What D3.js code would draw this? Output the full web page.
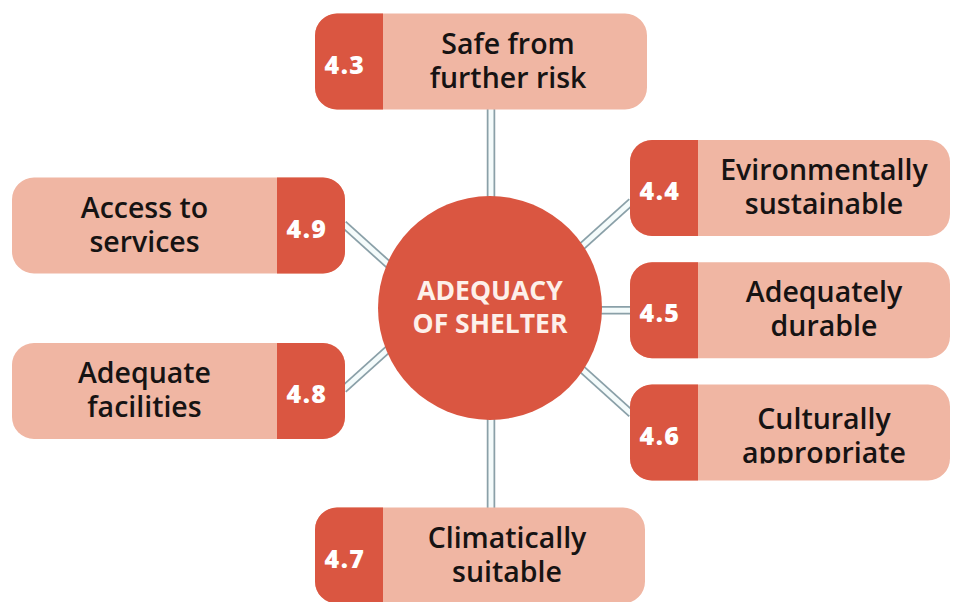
<!DOCTYPE html>
<html>
<head>
<meta charset="utf-8">
<script src="https://cdn.jsdelivr.net/npm/d3@7"></script>
<style>
  html, body { margin: 0; padding: 0; background: #ffffff; }
  svg { display: block; }
</style>
</head>
<body>
<script>
// ---------------- DATA ----------------
const codes = ["4.3", "4.4", "4.5", "4.6", "4.7", "4.8", "4.9"];
const labelLines = [
  ["Safe from", "further risk"],
  ["Evironmentally", "sustainable"],
  ["Adequately", "durable"],
  ["Culturally", "appropriate"],
  ["Climatically", "suitable"],
  ["Adequate", "facilities"],
  ["Access to", "services"]
];
const placements = ["top", "right", "right", "right", "bottom", "left", "left"];
const centerLines = ["ADEQUACY", "OF SHELTER"];

// ---------------- STYLE / LAYOUT ----------------
const W = 953, H = 602;
const C = { dark: "#da5641", light: "#f0b6a3", text: "#161313", line: "#8aa0a8", centerText: "#fdf0ea" };
const FONT = "'Open Sans', 'Noto Sans', sans-serif";
const center = { x: 490, y: 308, r: 112 };
const boxH = 96, rad = 22, tab = 68;

const svg = d3.select("body").append("svg").attr("width", W).attr("height", H);

const nodes = codes.map((c, i) => ({ code: c, lines: labelLines[i], side: placements[i], i }));
const rightCodes = nodes.filter(d => d.side === "right").map(d => d.code);
const leftCodes = nodes.filter(d => d.side === "left").map(d => d.code).reverse();
const yRight = d3.scalePoint().domain(rightCodes).range([188, 432.5]);
const yLeft = d3.scalePoint().domain(leftCodes).range([225.5, 391]);

nodes.forEach(d => {
  if (d.side === "top") { d.x0 = 315; d.x1 = 647; d.cy = 61.5; }
  else if (d.side === "bottom") { d.x0 = 315; d.x1 = 645; d.cy = 555.5; }
  else if (d.side === "right") { d.x0 = 630; d.x1 = 950; d.cy = yRight(d.code); }
  else { d.x0 = 12; d.x1 = 345; d.cy = yLeft(d.code); }
  d.y0 = d.cy - boxH / 2; d.y1 = d.cy + boxH / 2;
  d.tabLeft = d.side !== "left";
});

// connector anchor + direction
const diag = 42 * Math.PI / 180;
nodes.forEach(d => {
  let ax, ay, dx, dy;
  if (d.side === "top") { ax = center.x + 1; ay = d.y1; dx = 0; dy = 1; }
  else if (d.side === "bottom") { ax = center.x + 1; ay = d.y0; dx = 0; dy = -1; }
  else if (d.side === "right") {
    ax = d.x0;
    const k = rightCodes.indexOf(d.code);
    if (k === 1) { ay = d.cy; dx = -1; dy = 0; }
    else if (k === 0) { ay = d.cy + 15; dx = -Math.cos(diag); dy = Math.sin(diag); }
    else { ay = d.cy - 20; dx = -Math.cos(diag); dy = -Math.sin(diag); }
  } else {
    ax = d.x1;
    const k = leftCodes.indexOf(d.code);
    if (k === 0) { ay = d.cy; dx = Math.cos(diag); dy = Math.sin(diag); }
    else { ay = d.cy - 3; dx = Math.cos(diag); dy = -Math.sin(diag); }
  }
  d.conn = { x1: ax + dx * -2, y1: ay + dy * -2, x2: ax + dx * 110, y2: ay + dy * 110 };
});

// connectors (double lines)
const gConn = svg.append("g");
gConn.selectAll("line.outer").data(nodes).join("line").attr("class", "outer")
  .attr("x1", d => d.conn.x1).attr("y1", d => d.conn.y1)
  .attr("x2", d => d.conn.x2).attr("y2", d => d.conn.y2)
  .attr("stroke", C.line).attr("stroke-width", 8.5);
gConn.selectAll("line.inner").data(nodes).join("line").attr("class", "inner")
  .attr("x1", d => d.conn.x1).attr("y1", d => d.conn.y1)
  .attr("x2", d => d.conn.x2).attr("y2", d => d.conn.y2)
  .attr("stroke", "#f4fbfb").attr("stroke-width", 5);

function rr(x, y, w, h, tl, tr, br, bl) {
  const p = d3.path();
  p.moveTo(x + tl, y);
  p.lineTo(x + w - tr, y);
  if (tr) p.arcTo(x + w, y, x + w, y + tr, tr);
  p.lineTo(x + w, y + h - br);
  if (br) p.arcTo(x + w, y + h, x + w - br, y + h, br);
  p.lineTo(x + bl, y + h);
  if (bl) p.arcTo(x, y + h, x, y + h - bl, bl);
  p.lineTo(x, y + tl);
  if (tl) p.arcTo(x, y, x + tl, y, tl);
  p.closePath();
  return p.toString();
}

// boxes
const gBox = svg.append("g").selectAll("g").data(nodes).join("g");
gBox.append("path")
  .attr("d", d => rr(d.x0, d.y0, d.x1 - d.x0, boxH, rad, rad, rad, rad))
  .attr("fill", C.light);
gBox.append("path")
  .attr("d", d => d.tabLeft
    ? rr(d.x0, d.y0, tab, boxH, rad, 0, 0, rad)
    : rr(d.x1 - tab, d.y0, tab, boxH, 0, rad, rad, 0))
  .attr("fill", C.dark);

// code numbers
gBox.append("text")
  .attr("x", d => (d.tabLeft ? d.x0 + tab / 2 : d.x1 - tab / 2) - 4)
  .attr("y", d => d.cy + 12)
  .attr("text-anchor", "middle")
  .attr("font-family", FONT).attr("font-weight", 800).attr("font-size", 25)
  .attr("letter-spacing", 1.5)
  .attr("fill", "#ffffff")
  .text(d => d.code);

const defs = svg.append("defs");
const LFS = 28.5;

// labels
gBox.each(function (d) {
  const g = d3.select(this);
  const lx0 = d.tabLeft ? d.x0 + tab : d.x0;
  const lx1 = d.tabLeft ? d.x1 : d.x1 - tab;
  const shift = (d.side === "top" || d.side === "bottom") ? -7 : 0;
  const tx = (lx0 + lx1) / 2 + shift;
  const dyOff = d.code === "4.6" ? 4 : 0;
  const base1 = d.cy - 8 + dyOff, base2 = d.cy + 26 + dyOff;
  const t = g.append("text")
    .attr("text-anchor", "middle")
    .attr("font-family", FONT).attr("font-weight", 600).attr("font-size", LFS)
    .attr("fill", C.text);
  t.append("tspan").attr("x", tx).attr("y", base1).text(d.lines[0]);
  if (d.code === "4.6") {
    // last line is cut at its baseline in the source
    const id = "clip46";
    defs.append("clipPath").attr("id", id).append("rect")
      .attr("x", lx0).attr("y", d.y0).attr("width", lx1 - lx0).attr("height", base2 + 1 - d.y0);
    g.append("text")
      .attr("text-anchor", "middle")
      .attr("font-family", FONT).attr("font-weight", 600).attr("font-size", LFS)
      .attr("fill", C.text).attr("clip-path", `url(#${id})`)
      .attr("x", tx).attr("y", base2).text(d.lines[1]);
  } else {
    t.append("tspan").attr("x", tx).attr("y", base2).text(d.lines[1]);
  }
});

// center circle
svg.append("circle").attr("cx", center.x).attr("cy", center.y).attr("r", center.r).attr("fill", C.dark);
svg.append("text")
  .attr("text-anchor", "middle")
  .attr("font-family", FONT).attr("font-weight", 700).attr("font-size", 26.5)
  .attr("fill", C.centerText)
  .selectAll("tspan").data(centerLines).join("tspan")
  .attr("x", center.x)
  .attr("y", (d, i) => center.y - 8 + i * 33)
  .text(d => d);
</script>
</body>
</html>
